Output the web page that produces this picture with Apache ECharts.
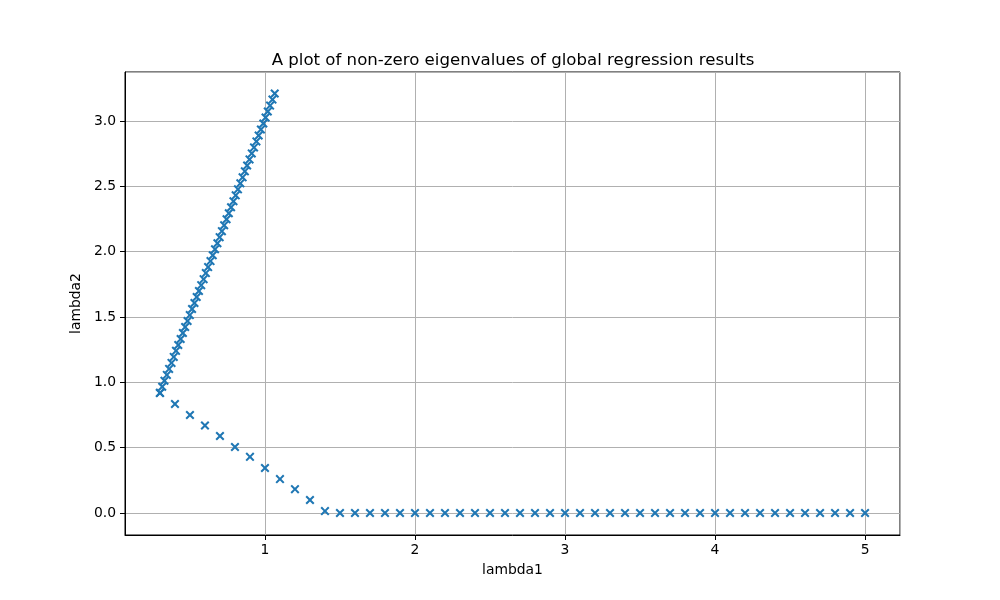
<!DOCTYPE html>
<html>
<head>
<meta charset="utf-8">
<script src="https://cdn.jsdelivr.net/npm/echarts@6/dist/echarts.min.js"></script>
<style>
    html, body { margin: 0; padding: 0; background: #fff; }
    #chart { width: 1000px; height: 600px; }
</style>
</head>
<body>
<div id="chart"></div>
<script>
// steep branch
var upperLambda1 = [0.30, 0.315, 0.33, 0.346, 0.361, 0.377, 0.392, 0.407, 0.422, 0.438,
    0.453, 0.468, 0.484, 0.499, 0.514, 0.53, 0.545, 0.56, 0.575, 0.591,
    0.606, 0.621, 0.637, 0.652, 0.667, 0.683, 0.698, 0.713, 0.728, 0.744,
    0.759, 0.774, 0.79, 0.805, 0.82, 0.836, 0.851, 0.866, 0.881, 0.897,
    0.912, 0.927, 0.943, 0.958, 0.973, 0.989, 1.004, 1.019, 1.034, 1.05, 1.065];
var upperLambda2 = [0.92, 0.966, 1.012, 1.057, 1.103, 1.149, 1.195, 1.241, 1.286, 1.332,
    1.378, 1.424, 1.47, 1.515, 1.561, 1.607, 1.653, 1.699, 1.744, 1.79,
    1.836, 1.882, 1.928, 1.973, 2.019, 2.065, 2.111, 2.157, 2.202, 2.248,
    2.294, 2.34, 2.386, 2.431, 2.477, 2.523, 2.569, 2.615, 2.66, 2.706,
    2.752, 2.798, 2.844, 2.889, 2.935, 2.981, 3.027, 3.073, 3.118, 3.164, 3.21];

// falling branch then flat at zero
var lowerLambda1 = [0.3, 0.4, 0.5, 0.6, 0.7, 0.8, 0.9, 1.0, 1.1, 1.2, 1.3, 1.4,
    1.5, 1.6, 1.7, 1.8, 1.9, 2.0, 2.1, 2.2, 2.3, 2.4, 2.5, 2.6, 2.7, 2.8, 2.9, 3.0,
    3.1, 3.2, 3.3, 3.4, 3.5, 3.6, 3.7, 3.8, 3.9, 4.0, 4.1, 4.2, 4.3, 4.4, 4.5, 4.6,
    4.7, 4.8, 4.9, 5.0];
var lowerLambda2 = [0.918, 0.834, 0.75, 0.67, 0.59, 0.505, 0.43, 0.345, 0.26, 0.183, 0.10, 0.015,
    0, 0, 0, 0, 0, 0, 0, 0, 0, 0, 0, 0, 0, 0, 0, 0,
    0, 0, 0, 0, 0, 0, 0, 0, 0, 0, 0, 0, 0, 0, 0, 0,
    0, 0, 0, 0];

var xMin = 0.067, xMax = 5.233;
var yMin = -0.168, yMax = 3.375;

var points = [];
for (var i = 0; i < upperLambda1.length; i++) {
    points.push([upperLambda1[i], upperLambda2[i]]);
}
for (var j = 0; j < lowerLambda1.length; j++) {
    points.push([lowerLambda1[j], lowerLambda2[j]]);
}

// matplotlib style 'x' marker as a filled outline
var xMarker = 'path://M0,1.6L1.6,0L5,3.4L8.4,0L10,1.6L6.6,5L10,8.4L8.4,10L5,6.6L1.6,10L0,8.4L3.4,5Z';

var font = 'DejaVu Sans';

var myChart = echarts.init(document.getElementById('chart'), null, {renderer: 'canvas'});

var option = {
    backgroundColor: '#fff',
    animation: false,
    title: {
        text: 'A plot of non-zero eigenvalues of global regression results',
        left: 508,
        textAlign: 'center',
        top: 47,
        textStyle: {
            fontFamily: font,
            fontSize: 16.6,
            fontWeight: 'normal',
            color: '#000'
        }
    },
    grid: {
        left: 125,
        right: 100,
        top: 72,
        bottom: 65,
        show: true,
        borderColor: '#000',
        borderWidth: 1,
        containLabel: false
    },
    xAxis: {
        type: 'value',
        min: xMin,
        max: xMax,
        splitNumber: 5,
        name: 'lambda1',
        nameLocation: 'middle',
        nameGap: 28,
        nameTextStyle: {fontFamily: font, fontSize: 13.9, color: '#000'},
        axisLine: {show: true, onZero: false, lineStyle: {color: '#000', width: 1}},
        axisTick: {show: true, inside: false, length: 5, lineStyle: {color: '#000'}},
        axisLabel: {
            fontFamily: font, fontSize: 13.9, color: '#000', margin: 8,
            showMinLabel: false, showMaxLabel: false,
            formatter: function (v) {
                return Math.abs(v - Math.round(v)) < 1e-6 ? String(Math.round(v)) : '';
            }
        },
        splitLine: {show: true, lineStyle: {color: '#b0b0b0', width: 1}}
    },
    yAxis: {
        type: 'value',
        min: yMin,
        max: yMax,
        splitNumber: 7,
        name: 'lambda2',
        nameLocation: 'middle',
        nameGap: 34,
        nameRotate: 90,
        nameTextStyle: {fontFamily: font, fontSize: 13.9, color: '#000'},
        axisLine: {show: true, onZero: false, lineStyle: {color: '#000', width: 1}},
        axisTick: {show: true, inside: false, length: 5, lineStyle: {color: '#000'}},
        axisLabel: {
            fontFamily: font, fontSize: 13.9, color: '#000', margin: 9,
            showMinLabel: false, showMaxLabel: false,
            formatter: function (v) {
                return Math.abs(v * 2 - Math.round(v * 2)) < 1e-6 ? v.toFixed(1) : '';
            }
        },
        splitLine: {show: true, lineStyle: {color: '#b0b0b0', width: 1}}
    },
    series: [
        {
            type: 'scatter',
            data: points,
            symbol: xMarker,
            symbolSize: 9,
            itemStyle: {color: '#1f77b4', opacity: 1}
        }
    ]
};

myChart.setOption(option);
</script>
</body>
</html>
